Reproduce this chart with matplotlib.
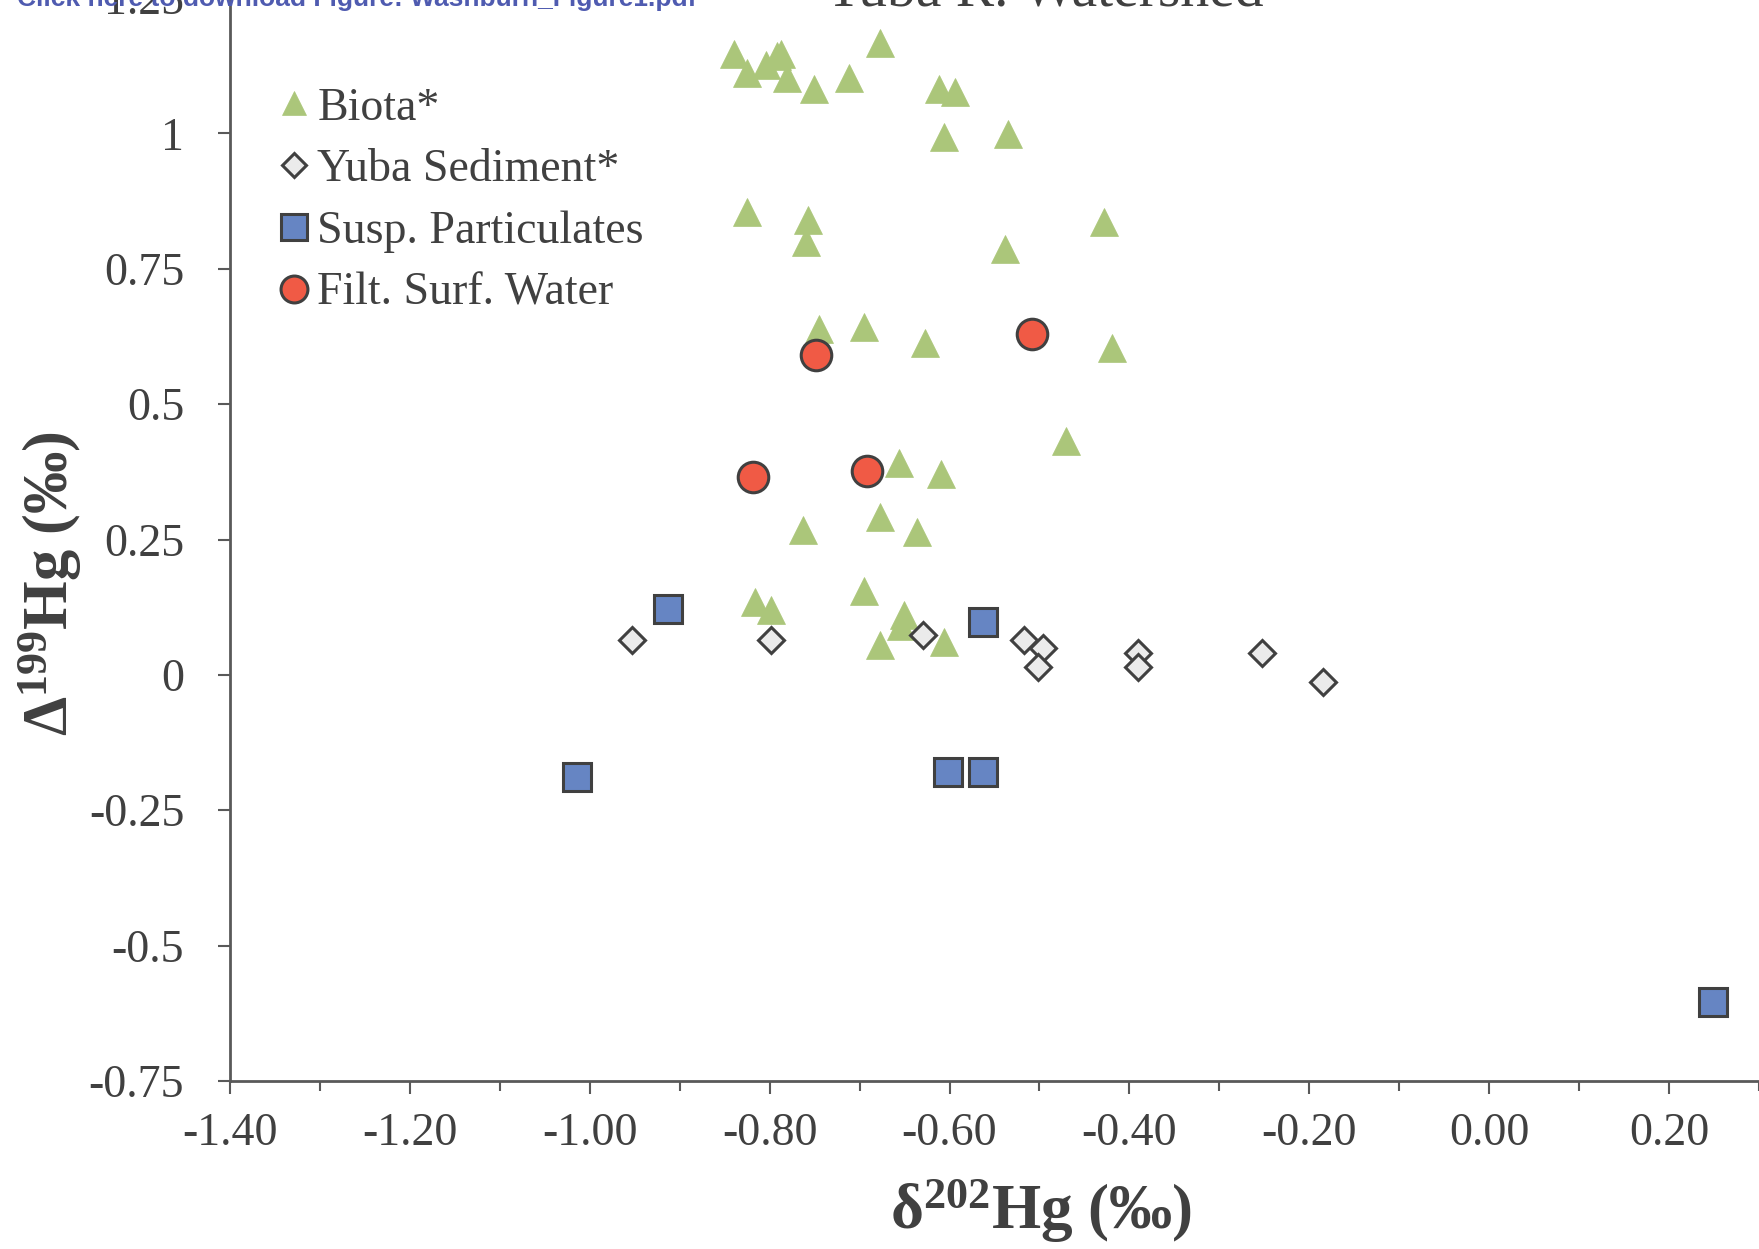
import matplotlib
matplotlib.use("Agg")
import matplotlib.pyplot as plt
from matplotlib.ticker import MultipleLocator, FuncFormatter

# data (delta202Hg, Delta199Hg in permil)
biota_x = [-0.840, -0.825, -0.804, -0.792, -0.787, -0.781, -0.751, -0.712, -0.677,
           -0.612, -0.594, -0.606, -0.535, -0.825, -0.757, -0.760, -0.428, -0.538,
           -0.745, -0.695, -0.627, -0.419, -0.470, -0.656, -0.609, -0.763, -0.677,
           -0.636, -0.695, -0.816, -0.799, -0.651, -0.654, -0.677, -0.606]
biota_y = [1.147, 1.112, 1.126, 1.142, 1.147, 1.102, 1.082, 1.102, 1.167,
           1.082, 1.077, 0.993, 0.999, 0.855, 0.840, 0.800, 0.836, 0.786,
           0.638, 0.643, 0.613, 0.603, 0.431, 0.391, 0.371, 0.268, 0.292,
           0.263, 0.155, 0.135, 0.119, 0.110, 0.090, 0.056, 0.061]

sed_x = [-0.953, -0.798, -0.630, -0.517, -0.496, -0.502, -0.390, -0.390, -0.253, -0.185]
sed_y = [0.065, 0.065, 0.074, 0.065, 0.050, 0.014, 0.040, 0.014, 0.040, -0.014]

susp_x = [-0.913, -1.014, -0.563, -0.602, -0.563, 0.249]
susp_y = [0.122, -0.189, 0.097, -0.179, -0.179, -0.605]

filt_x = [-0.748, -0.508, -0.819, -0.692]
filt_y = [0.590, 0.629, 0.366, 0.376]

labels = ["Biota*", "Yuba Sediment*", "Susp. Particulates", "Filt. Surf. Water"]

txt = "#404040"
plt.rcParams["font.family"] = ["Liberation Serif", "DejaVu Serif"]
plt.rcParams["mathtext.fontset"] = "custom"
plt.rcParams["mathtext.rm"] = "Liberation Serif"
plt.rcParams["mathtext.bf"] = "Liberation Serif:bold"
plt.rcParams["mathtext.it"] = "Liberation Serif:italic"

fig = plt.figure(figsize=(17.59, 12.49), dpi=100)
ax = fig.add_axes([230 / 1759, 1 - 1081 / 1249, 1529 / 1759, 1083 / 1249])

edge = "#404040"
ax.plot(biota_x, biota_y, ls="none", marker="^", ms=20, mfc="#ABC67A", mec="#ABC67A",
        mew=0.5, label=labels[0])
ax.plot(sed_x, sed_y, ls="none", marker="D", ms=13.5, mfc="#EBEBEB", mec=edge,
        mew=2.2, label=labels[1])
ax.plot(susp_x, susp_y, ls="none", marker="s", ms=20.5, mfc="#6685C3", mec=edge,
        mew=2.2, label=labels[2])
ax.plot(filt_x, filt_y, ls="none", marker="o", ms=22, mfc="#F05A45", mec=edge,
        mew=2.2, label=labels[3])

ax.set_xlim(-1.4, 0.3)
ax.set_ylim(-0.75, 1.25)
ax.xaxis.set_major_locator(MultipleLocator(0.2))
ax.xaxis.set_minor_locator(MultipleLocator(0.1))
ax.yaxis.set_major_locator(MultipleLocator(0.25))
ax.xaxis.set_major_formatter(FuncFormatter(lambda v, p: f"{v:.2f}"))
ax.yaxis.set_major_formatter(FuncFormatter(lambda v, p: f"{v:g}"))

for s in ["top", "right"]:
    ax.spines[s].set_visible(False)
for s in ["left", "bottom"]:
    ax.spines[s].set_color("#595959")
    ax.spines[s].set_linewidth(2)

ax.tick_params(axis="x", which="major", length=9, width=1.5, color="#595959",
               labelsize=33, labelcolor=txt, pad=14)
ax.tick_params(axis="x", which="minor", length=7, width=1.5, color="#595959")
ax.tick_params(axis="y", which="major", length=9, width=1.5, color="#595959",
               labelsize=33, labelcolor=txt, pad=24)

fig.text(1041 / 1759, 1 - 1211 / 1249, r"$\mathbf{\delta^{202}Hg\ (‰)}$",
         fontsize=45.5, color=txt, ha="center", va="center")
fig.text(50 / 1759, 1 - 583 / 1249, r"$\mathbf{\Delta^{199}Hg\ (‰)}$",
         fontsize=45, color=txt, ha="center", va="center", rotation=90)

# cut-off title and link text at the very top
fig.text(1043 / 1759, 1 - 5 / 1249, "Yuba R. Watershed", fontsize=41.5, color=txt,
         ha="center", va="baseline")
fig.text(17 / 1759, 1 - 6 / 1249, "Click here to download Figure: Washburn_Figure1.pdf",
         fontsize=19, color="#4F5BB0", fontweight="bold", ha="left", va="baseline",
         family="Liberation Sans")

leg = ax.legend(loc="upper left", bbox_to_anchor=(275 / 1759, 1 - 87 / 1249),
                bbox_transform=fig.transFigure, frameon=False, fontsize=33,
                handlelength=0.82, handletextpad=0.1, labelspacing=0.42,
                borderpad=0, borderaxespad=0, markerscale=0.88)
for t in leg.get_texts():
    t.set_color(txt)

fig.savefig("out.png", dpi=100)
